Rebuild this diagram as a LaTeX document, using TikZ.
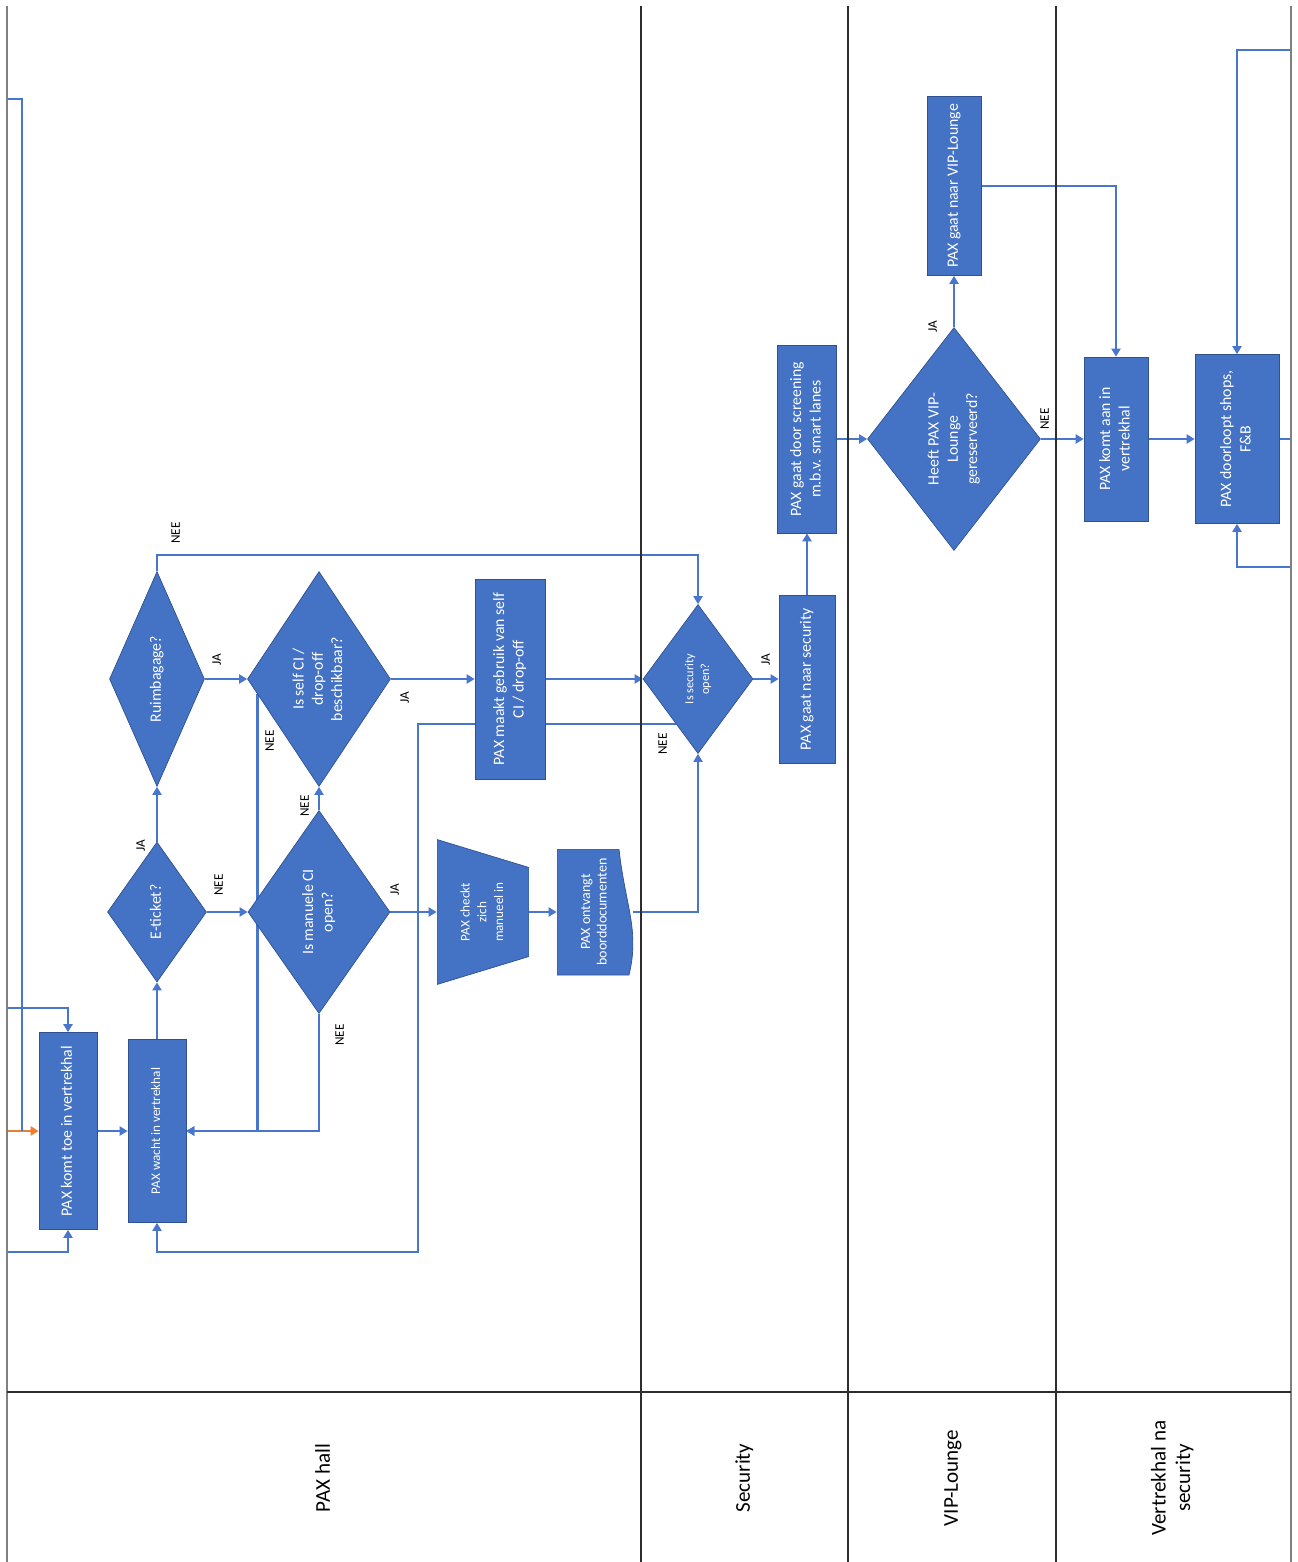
\documentclass[tikz,border=0pt]{standalone}
\usepackage{fontspec}
\setmainfont{Carlito}
\usepackage{graphicx}
\usetikzlibrary{arrows.meta, shapes.geometric, calc, backgrounds}
\definecolor{paxblue}{RGB}{68,114,196}
\definecolor{paxedge}{RGB}{47,82,143}
\definecolor{paxline}{RGB}{72,118,204}
\definecolor{paxorange}{RGB}{237,125,49}
\definecolor{lanegray}{RGB}{128,128,128}
\definecolor{lanedark}{RGB}{45,45,45}
\newcommand{\vtxt}[1]{\rotatebox{90}{\begin{tabular}{@{}c@{}}#1\end{tabular}}}
\tikzset{
  procbox/.style={
    rectangle, draw=paxedge, thin, fill=paxblue, text=white,
    inner sep=0pt, font=\fontsize{9}{11}\selectfont
  },
  decision/.style={
    diamond, draw=paxedge, thin, fill=paxblue, text=white,
    inner sep=0pt, font=\fontsize{9}{11}\selectfont
  },
  manualop/.style={
    rectangle, draw=none, text=white, inner sep=0pt,
    font=\fontsize{7.5}{9.5}\selectfont,
    path picture={
      \filldraw[fill=paxblue, draw=paxedge, thin]
        (path picture bounding box.north west)
        -- ([yshift=-0.56cm]path picture bounding box.north east)
        -- ([yshift=0.56cm]path picture bounding box.south east)
        -- (path picture bounding box.south west) -- cycle;
    }
  },
  docbox/.style={
    rectangle, draw=none, text=white, inner sep=0pt,
    font=\fontsize{8}{9.5}\selectfont,
    path picture={
      \filldraw[fill=paxblue, draw=paxedge, thin]
        (path picture bounding box.north west)
        -- ([xshift=-0.28cm]path picture bounding box.north east)
        .. controls ([xshift=-0.16cm, yshift=-1.12cm]path picture bounding box.north east)
        and ([xshift=0.14cm, yshift=0.9cm]path picture bounding box.south east)
        .. ([xshift=-0.08cm]path picture bounding box.south east)
        -- (path picture bounding box.south west) -- cycle;
    }
  },
  answer/.style={font=\fontsize{7.5}{8.5}\selectfont, text=black, inner sep=0pt},
  lanelabel/.style={font=\fontsize{12}{14}\selectfont, text=black, inner sep=0pt},
  laneline/.style={line width=1.1pt, draw=lanedark},
  laneedge/.style={line width=1.1pt, draw=lanegray},
  arrowflow/.style={-{Triangle[length=1.6mm, width=1.8mm]}, line width=1.5pt, draw=paxline},
  plainflow/.style={line width=1.5pt, draw=paxline},
  startflow/.style={-{Triangle[length=1.6mm, width=1.8mm]}, line width=1.5pt, draw=paxorange}
}

\begin{document}
\begin{tikzpicture}[x=0.02cm, y=-0.02cm]
\useasboundingbox (0,0) rectangle (1298,1562);

% swimlanes
\draw[laneedge] (7,6) -- (7,1562);
\draw[laneline] (641,6) -- (641,1562);
\draw[laneline] (848,6) -- (848,1562);
\draw[laneline] (1056,6) -- (1056,1562);
\draw[laneedge] (1291,6) -- (1291,1562);
\draw[laneline] (7,1392) -- (1291,1392);

\node[lanelabel] (lanehall) at (325,1478) {\vtxt{PAX hall}};
\node[lanelabel] (lanesec) at (745,1478) {\vtxt{Security}};
\node[lanelabel] (lanevip) at (953,1478) {\vtxt{VIP-Lounge}};
\node[lanelabel] (lanena) at (1173,1478) {\vtxt{Vertrekhal na\\security}};

% PAX hall
\node[procbox, minimum width=1.16cm, minimum height=3.94cm] (komt) at (68,1131) {\vtxt{PAX komt toe in vertrekhal}};
\node[procbox, minimum width=1.16cm, minimum height=3.66cm, font=\fontsize{7.5}{9}\selectfont] (wacht) at (157,1131) {\vtxt{PAX wacht in vertrekhal}};
\node[decision, minimum width=1.98cm, minimum height=2.80cm, shape aspect=0.7] (eticket) at (157,912) {\vtxt{E-ticket?}};
\node[decision, minimum width=2.84cm, minimum height=4.06cm, shape aspect=0.7] (manueel) at (319,912) {\vtxt{Is manuele CI\\open?}};
\node[decision, minimum width=1.90cm, minimum height=4.30cm, shape aspect=0.45] (ruim) at (157,679) {\vtxt{Ruimbagage?}};
\node[decision, minimum width=2.86cm, minimum height=4.30cm, shape aspect=0.66] (self) at (319,679) {\vtxt{Is self CI /\\drop-off\\beschikbaar?}};
\node[procbox, minimum width=1.40cm, minimum height=4.00cm] (selfuse) at (510,679) {\vtxt{PAX maakt gebruik van self\\CI / drop-off}};
\node[manualop, minimum width=1.84cm, minimum height=2.90cm] (checkt) at (483,912) {\vtxt{PAX checkt\\zich\\manueel in}};
\node[docbox, minimum width=1.52cm, minimum height=2.52cm] (ontvangt) at (595,912) {\vtxt{PAX ontvangt\\boorddocumenten}};

% Security
\node[decision, minimum width=2.20cm, minimum height=2.98cm, shape aspect=0.74, font=\fontsize{7}{9}\selectfont] (secopen) at (698,679) {\vtxt{Is security\\open?}};
\node[procbox, minimum width=1.12cm, minimum height=3.36cm] (naarsec) at (807,679) {\vtxt{PAX gaat naar security}};
\node[procbox, minimum width=1.18cm, minimum height=3.76cm] (screening) at (807,439) {\vtxt{PAX gaat door screening\\m.b.v. smart lanes}};

% VIP-Lounge
\node[decision, minimum width=3.46cm, minimum height=4.46cm, shape aspect=0.78] (vip) at (954,439) {\vtxt{Heeft PAX VIP-\\Lounge\\gereserveerd?}};
\node[procbox, minimum width=1.08cm, minimum height=3.58cm] (naarvip) at (954,186) {\vtxt{PAX gaat naar VIP-Lounge}};

% Vertrekhal na security
\node[procbox, minimum width=1.28cm, minimum height=3.28cm] (aankomt) at (1116,439) {\vtxt{PAX komt aan in\\vertrekhal}};
\node[procbox, minimum width=1.68cm, minimum height=3.38cm] (shops) at (1237,439) {\vtxt{PAX doorloopt shops,\\F\&B}};

% answers
\node[answer] (jaEticket) at (142,846) {\vtxt{JA}};
\node[answer] (neeEticket) at (220,885) {\vtxt{NEE}};
\node[answer] (jaRuim) at (218,660) {\vtxt{JA}};
\node[answer] (neeRuim) at (177,533) {\vtxt{NEE}};
\node[answer] (neeManTop) at (306,806) {\vtxt{NEE}};
\node[answer] (neeSelf) at (271,741) {\vtxt{NEE}};
\node[answer] (jaSelf) at (406,698) {\vtxt{JA}};
\node[answer] (jaMan) at (396,890) {\vtxt{JA}};
\node[answer] (neeManBot) at (341,1035) {\vtxt{NEE}};
\node[answer] (neeSec) at (664,744) {\vtxt{NEE}};
\node[answer] (jaSec) at (767,660) {\vtxt{JA}};
\node[answer] (jaVip) at (934,327) {\vtxt{JA}};
\node[answer] (neeVip) at (1046,419) {\vtxt{NEE}};

\coordinate (inL) at (7,1131);
\coordinate (topL) at (7,99);
\coordinate (midL) at (7,1008);
\coordinate (botL) at (7,1252);
\coordinate (retR) at (1291,50);
\coordinate (backR) at (1291,567);
\coordinate (outR) at (1291,439);
\coordinate (selfno) at ($(self.west)!0.14!(self.south)$);
\coordinate (secno) at ($(secopen.west)!0.6!(secopen.south)$);

\begin{scope}[on background layer]
\draw[startflow] (inL) -- (komt.west);
\draw[plainflow] (topL) -| ([xshift=0.3cm]inL);
\draw[arrowflow] (midL) -| (komt.north);
\draw[arrowflow] (botL) -| (komt.south);
\draw[arrowflow] (komt) -- (wacht);
\draw[arrowflow] (wacht) -- (eticket);
\draw[arrowflow] (eticket) -- (ruim);
\draw[arrowflow] (eticket) -- (manueel);
\draw[arrowflow] (ruim) -- (self);
\draw[arrowflow] (ruim.north) -- ++(0,-16) -| (secopen.north);
\draw[arrowflow] (manueel) -- (self);
\draw[arrowflow] (self) -- (selfuse);
\draw[arrowflow] (selfno) |- (wacht.east);
\draw[arrowflow] (manueel.south) |- (wacht.east);
\draw[arrowflow] (manueel) -- (checkt);
\draw[arrowflow] (checkt) -- (ontvangt);
\draw[arrowflow] (ontvangt.east) -| (secopen.south);
\draw[arrowflow] (selfuse) -- (secopen);
\draw[arrowflow] (secno) -- ++(-258,0) -- ++(0,528) -| (wacht.south);
\draw[arrowflow] (secopen) -- (naarsec);
\draw[arrowflow] (naarsec) -- (screening);
\draw[arrowflow] (screening) -- (vip);
\draw[arrowflow] (vip) -- (naarvip);
\draw[arrowflow] (vip) -- (aankomt);
\draw[arrowflow] (naarvip.east) -| (aankomt.north);
\draw[arrowflow] (aankomt) -- (shops);
\draw[plainflow] (shops.east) -- (outR);
\draw[arrowflow] (retR) -| (shops.north);
\draw[arrowflow] (backR) -| (shops.south);
\end{scope}

\end{tikzpicture}
\end{document}
